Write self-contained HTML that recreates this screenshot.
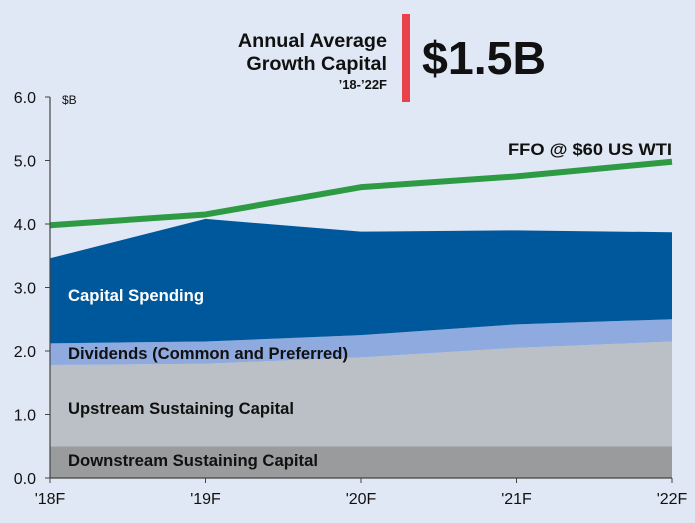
<!DOCTYPE html>
<html><head><meta charset="utf-8"><style>
html,body{margin:0;padding:0;background:#dfe8f4;}
svg{display:block;font-family:"Liberation Sans",Arial,sans-serif;}
</style></head><body>
<svg id="chart" width="695" height="523" viewBox="0 0 695 523" xmlns="http://www.w3.org/2000/svg">
<rect x="0" y="0" width="695" height="523" fill="#dfe8f4"/>
<g font-weight="bold" fill="#111">
<text x="387" y="47" text-anchor="end" font-size="19.8">Annual Average</text>
<text x="387" y="70" text-anchor="end" font-size="19.8">Growth Capital</text>
<text x="387" y="89" text-anchor="end" font-size="13">’18-’22F</text>
<rect x="402" y="14" width="8" height="88" fill="#e8424a"/>
<text x="422" y="74" font-size="46.5">$1.5B</text>
</g>
<g id="plot"></g>
</svg>
<script>
const categories = ["'18F","'19F","'20F","'21F","'22F"];
const downstream = [0.5,0.5,0.5,0.5,0.5];
const upstream = [1.28,1.3,1.4,1.55,1.65];
const dividends = [0.34,0.35,0.35,0.37,0.35];
const capitalSpending = [1.34,1.93,1.63,1.48,1.37];
const ffo = [3.98,4.15,4.58,4.75,4.98];
const yTicks = [0,1,2,3,4,5,6];
const yTickLabels = ["0.0","1.0","2.0","3.0","4.0","5.0","6.0"];

const NS = "http://www.w3.org/2000/svg";
const x0 = 50, x1 = 672, yBase = 478, yTop = 97, yMax = 6;
function xScale(i){ return x0 + (x1 - x0) * i / (categories.length - 1); }
function yScale(v){ return yBase - (yBase - yTop) * v / yMax; }
const plot = document.getElementById('plot');
function mk(tag, attrs){ const e = document.createElementNS(NS, tag); for (const k in attrs) e.setAttribute(k, attrs[k]); plot.appendChild(e); return e; }

const layers = [
  {d: downstream, c: "#9a9b9d", n: "area-downstream"},
  {d: upstream, c: "#bbbfc6", n: "area-upstream"},
  {d: dividends, c: "#8eaade", n: "area-dividends"},
  {d: capitalSpending, c: "#00589c", n: "area-capital-spending"}
];
let base = categories.map(() => 0);
layers.forEach(L => {
  const top = base.map((b, i) => b + L.d[i]);
  let pts = top.map((v, i) => xScale(i) + "," + yScale(v));
  for (let i = categories.length - 1; i >= 0; i--) pts.push(xScale(i) + "," + yScale(base[i]));
  const p = mk('polygon', {points: pts.join(' '), fill: L.c});
  
  
  base = top;
});

const line = mk('polyline', {points: ffo.map((v, i) => xScale(i) + "," + yScale(v)).join(' '), fill: "none", stroke: "#2e9a44", "stroke-width": 6, "stroke-linejoin": "round"});



const ax = mk('line', {x1: x0, y1: yTop, x2: x0, y2: yBase, stroke: "#444", "stroke-width": 1.2});


const xa = mk('line', {x1: x0, y1: yBase, x2: x1, y2: yBase, stroke: "#444", "stroke-width": 1.2});



yTicks.forEach((v, i) => {
  const t = mk('line', {x1: x0 - 5, y1: yScale(v), x2: x0, y2: yScale(v), stroke: "#444"});
  
  
  const l = mk('text', {x: 36, y: yScale(v) + 6, "text-anchor": "end", "font-size": 16, fill: "#111"});
  l.textContent = yTickLabels[i];
  
  
});
categories.forEach((c, i) => {
  const t = mk('line', {x1: xScale(i), y1: yBase, x2: xScale(i), y2: yBase + 5, stroke: "#444"});
  
  
  const l = mk('text', {x: xScale(i), y: 504, "text-anchor": "middle", "font-size": 16, fill: "#111"});
  l.textContent = c;
  
  
});

function label(txt, x, y, fill, size, name, weight, len){
  const a = {x: x, y: y, "font-size": size, fill: fill, "font-weight": weight || "bold"};
  if (len) { a.textLength = len; a.lengthAdjust = "spacingAndGlyphs"; }
  const l = mk('text', a);
  l.textContent = txt;
  
  
}
label("$B", 62, 104, "#111", 12, "y-unit-label", "normal");
label("Capital Spending", 68, 301, "#fff", 16.5, "label-capital-spending", "bold", 136);
label("Dividends (Common and Preferred)", 68, 359, "#111", 16.5, "label-dividends", "bold", 280);
label("Upstream Sustaining Capital", 68, 414, "#111", 16.5, "label-upstream", "bold", 226);
label("Downstream Sustaining Capital", 68, 466, "#111", 16.5, "label-downstream", "bold", 250);
label("FFO @ $60 US WTI", 508, 155, "#111", 17, "label-ffo", "bold", 164);
</script>
</body></html>
